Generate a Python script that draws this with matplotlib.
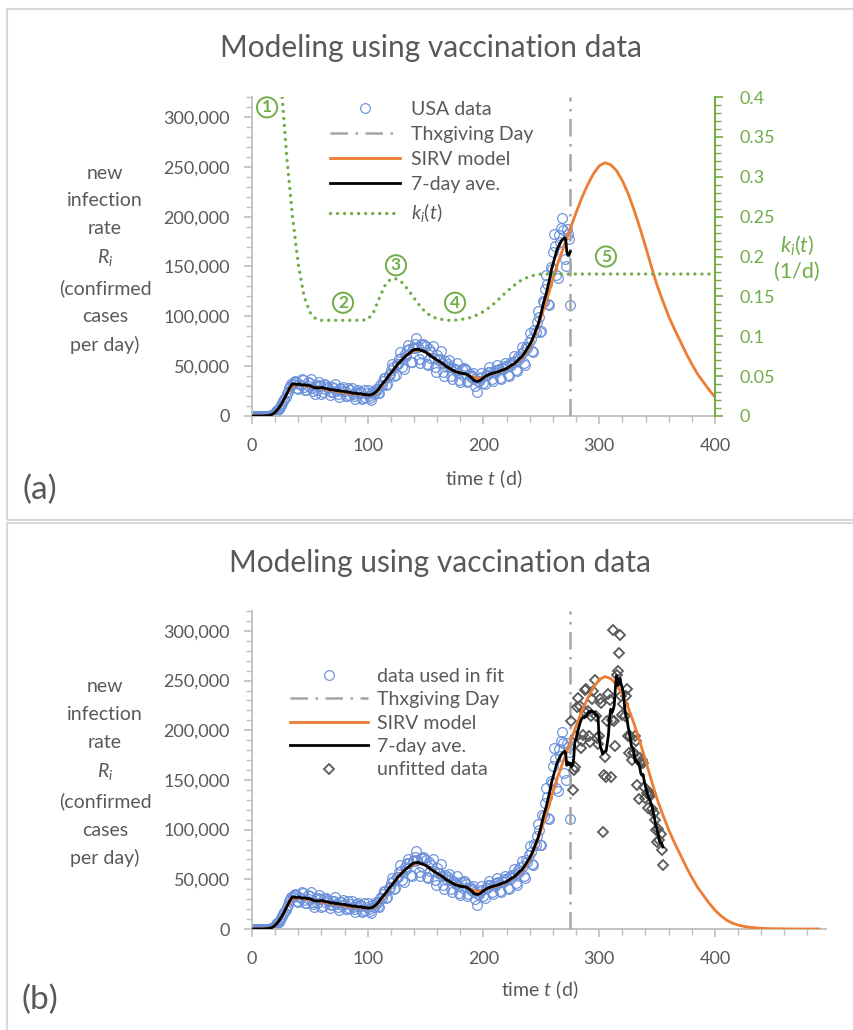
import numpy as np
import pandas as pd
import matplotlib
matplotlib.use('Agg')
import matplotlib.pyplot as plt
from matplotlib.ticker import MultipleLocator, FuncFormatter
from matplotlib.patches import Rectangle
from matplotlib.lines import Line2D

plt.rcParams['font.family'] = ['Lato', 'DejaVu Sans']
plt.rcParams['mathtext.fontset'] = 'custom'
plt.rcParams['mathtext.rm'] = 'Lato'
plt.rcParams['mathtext.it'] = 'Lato:italic'

# ---------------- data (thousands of cases per day) ----------------
# USA daily confirmed cases used in the fit, t = 0 .. 275
fit_cases_k = [
    0, 0, 0, 0, 0, 0, 0,
    0, 0, 0.1, 0.1, 0.1, 0.2, 0.3,
    0.4, 0.5, 0.7, 1.0, 1.5, 2.4, 3.3,
    4.6, 6.2, 7.4, 9.3, 10.8, 13.4, 14.8,
    17.4, 19.1, 22.6, 24.4, 27.8, 30.2, 32.6,
    32.4, 33.9, 35.2, 34.0, 28.1, 27.0, 31.8,
    31.0, 36.8, 35.8, 29.1, 26.5, 25.9, 34.4,
    29.8, 33.5, 36.9, 27.6, 25.3, 22.1, 30.5,
    26.2, 30.9, 34.6, 29.8, 22.2, 23.6, 31.6,
    27.4, 31.3, 29.4, 28.0, 21.1, 24.0, 28.6,
    23.7, 28.4, 32.1, 25.2, 22.0, 19.4, 27.6,
    26.8, 24.6, 29.4, 25.5, 19.9, 20.0, 27.9,
    21.2, 25.6, 28.3, 22.5, 19.9, 17.4, 24.8,
    22.8, 26.1, 24.2, 23.4, 17.0, 18.5, 25.7,
    19.0, 22.6, 26.3, 20.0, 17.9, 16.2, 24.3,
    21.8, 24.0, 27.3, 26.0, 22.9, 22.6, 31.4,
    31.3, 35.5, 38.6, 37.9, 31.0, 32.2, 41.5,
    41.9, 46.0, 51.8, 48.7, 40.0, 40.8, 52.6,
    52.4, 57.3, 63.9, 58.2, 48.9, 47.1, 62.5,
    60.5, 66.4, 70.8, 66.9, 54.0, 53.8, 68.3,
    68.4, 72.3, 78.5, 69.0, 57.5, 53.1, 71.8,
    63.0, 72.6, 71.7, 69.8, 52.5, 51.2, 67.6,
    58.4, 64.3, 70.3, 58.4, 49.3, 44.2, 61.2,
    56.6, 56.8, 65.5, 53.6, 44.6, 40.3, 54.7,
    50.4, 52.5, 55.7, 48.9, 39.9, 37.2, 48.2,
    47.3, 45.7, 53.1, 43.2, 36.6, 34.1, 47.3,
    41.4, 48.0, 47.4, 45.7, 33.7, 35.2, 42.4,
    39.3, 40.6, 43.0, 37.4, 30.2, 24.0, 34.8,
    35.4, 38.5, 43.1, 39.5, 33.1, 31.6, 41.6,
    41.4, 44.4, 48.8, 44.2, 36.9, 34.9, 45.6,
    43.3, 46.6, 51.0, 47.1, 37.9, 37.6, 47.9,
    46.8, 50.1, 53.6, 50.0, 41.5, 40.2, 52.9,
    50.9, 54.6, 60.3, 55.2, 46.3, 44.7, 59.2,
    57.4, 62.2, 68.9, 63.7, 53.1, 51.6, 69.2,
    67.9, 74.6, 83.3, 77.2, 65.4, 64.3, 86.0,
    84.4, 94.0, 105.2, 99.3, 84.6, 84.8, 114.9,
    113.9, 126.9, 141.4, 132.9, 112.2, 111.0, 149.0,
    147.4, 164.2, 182.2, 170.7, 141.9, 138.5, 181.1,
    174.4, 189.0, 198.5, 186.9, 157.0, 150.0, 187.3,
    183.0, 178.0, 111.0,
]

# unfitted data, t = 276 .. 355
unfitted_cases_k = [
    209, 140, 160, 163, 194, 223, 232, 224, 182, 189,
    195, 219, 241, 242, 219, 194, 188, 214, 231, 239,
    251, 214, 192, 186, 194, 231, 227, 98, 155, 173,
    153, 209, 236, 230, 153, 210, 301, 209, 184, 256,
    260, 278, 296, 234, 215, 226, 214, 234, 242, 194,
    177, 194, 170, 177, 177, 194, 189, 145, 131, 172,
    167, 170, 167, 143, 132, 137, 122, 135, 137, 135,
    121, 117, 110, 100, 88, 101, 90, 96, 80, 64,
]

# SIRV model, every 5 days
model_t = list(range(0, 495, 5))
model_k = [
    0, 0, 0.1, 0.6, 3.5, 11, 22, 30.5, 31.5, 30.5,
    29.5, 28.5, 27.5, 26.5, 25.5, 24.5, 23.5, 22.5, 22, 21.5,
    21, 21.5, 27, 35, 43, 50.5, 57, 62, 65.5, 66.5,
    64, 60, 56, 52, 48, 45, 43.5, 42, 39.5, 37.5,
    38.5, 41.5, 43, 45, 47.5, 51, 55, 61, 70, 83,
    100, 118, 138, 156, 172, 188, 204, 219, 232, 243,
    251, 254, 252, 246, 236, 223, 207, 189, 170, 150,
    131, 115, 100, 87, 75, 63, 52, 42, 34, 26,
    19, 13.5, 9, 6, 4, 2.6, 1.7, 1.1, 0.7, 0.45,
    0.3, 0.2, 0.12, 0.08, 0.05, 0.03, 0.02, 0.01, 0.01,
]

# infection rate coefficient k_i(t), 1/d
ki_t = list(range(20, 405, 5))
ki_vals = [
    0.62, 0.42, 0.325, 0.25, 0.19, 0.15, 0.13, 0.122, 0.12, 0.12,
    0.12, 0.12, 0.12, 0.12, 0.12, 0.12, 0.121, 0.13, 0.148, 0.164,
    0.172, 0.172, 0.167, 0.158, 0.148, 0.138, 0.13, 0.125, 0.122, 0.121,
    0.12, 0.12, 0.121, 0.122, 0.124, 0.127, 0.131, 0.136, 0.142, 0.149,
    0.156, 0.162, 0.168, 0.172, 0.175, 0.177, 0.178, 0.178, 0.178, 0.178,
    0.178, 0.178, 0.178, 0.178, 0.178, 0.178, 0.178, 0.178, 0.178, 0.178,
    0.178, 0.178, 0.178, 0.178, 0.178, 0.178, 0.178, 0.178, 0.178, 0.178,
    0.178, 0.178, 0.178, 0.178, 0.178, 0.178, 0.178,
]

thanksgiving_t = 274.7
stage_labels = ['1', '2', '3', '4', '5']
stage_t = [13, 78.6, 124.4, 175.4, 305.8]
stage_k = [0.387, 0.142, 0.189, 0.142, 0.2]

# ---------------- styling ----------------
W, H = 854, 1030
BLUE = '#6A90DA'
ORANGE = '#ED7D31'
GREEN = '#70AD47'
GRAY_TXT = '#595959'
AXIS_GRAY = '#BFBFBF'
TG_GRAY = '#A5A5A5'

def fx(px):
    return px / W

def fy(py):
    return 1 - py / H

fig = plt.figure(figsize=(W / 100, H / 100), dpi=100)
fig.patch.set_facecolor('white')

# panel borders
fig.patches.append(Rectangle((fx(7), fy(520)), 1.0, (520 - 9) / H, transform=fig.transFigure,
                             fill=False, ec='#D9D9D9', lw=1.5))
fig.patches.append(Rectangle((fx(7), fy(1040)), 1.0, (1040 - 523) / H, transform=fig.transFigure,
                             fill=False, ec='#D9D9D9', lw=1.5))

t_fit = np.arange(len(fit_cases_k))
fit_cases = np.array(fit_cases_k) * 1000
t_unf = np.arange(len(fit_cases_k), len(fit_cases_k) + len(unfitted_cases_k))
unf_cases = np.array(unfitted_cases_k) * 1000
model_t_arr = np.array(model_t)
model_vals = np.array(model_k) * 1000

avg_a = pd.Series(fit_cases).rolling(7, center=True, min_periods=4).mean().values
all_cases = np.concatenate([fit_cases, unf_cases])
t_all = np.arange(len(all_cases))
avg_b = pd.Series(all_cases).rolling(7, center=True, min_periods=4).mean().values

comma_fmt = FuncFormatter(lambda v, p: f'{int(round(v)):,}')

MS_O = 7.0
MEW_O = 0.85


def style_main_axis(ax, xmax):
    ax.set_ylim(0, 320000)
    ax.set_xlim(0, xmax)
    ax.yaxis.set_major_locator(MultipleLocator(50000))
    ax.yaxis.set_minor_locator(MultipleLocator(10000))
    ax.xaxis.set_major_locator(MultipleLocator(100))
    ax.xaxis.set_minor_locator(MultipleLocator(20))
    ax.yaxis.set_major_formatter(comma_fmt)
    for s in ['top', 'right']:
        ax.spines[s].set_visible(False)
    for s in ['left', 'bottom']:
        ax.spines[s].set_color(AXIS_GRAY)
        ax.spines[s].set_linewidth(1.3)
    ax.tick_params(axis='both', which='both', direction='out', color=AXIS_GRAY,
                   labelcolor=GRAY_TXT, labelsize=13)
    ax.tick_params(axis='both', which='major', length=6, width=1.2)
    ax.tick_params(axis='both', which='minor', length=4, width=1.0)
    ax.tick_params(axis='x', pad=10)
    ax.tick_params(axis='y', pad=10)
    ax.set_facecolor('none')


def ylabel_block(y0):
    lines = ['new', 'infection', 'rate', '$R_i$', '(confirmed', 'cases', 'per day)']
    offs = [0, 28, 56, 85, 115, 144, 172]
    for ln, o in zip(lines, offs):
        fig.text(fx(105), fy(y0 + o), ln, ha='center', va='center', fontsize=14, color=GRAY_TXT)


# ================= panel (a) =================
axA = fig.add_axes([fx(252), fy(416), (715 - 252) / W, (416 - 97) / H])
style_main_axis(axA, 400)
axA.set_xticks([0, 100, 200, 300, 400])

axA.plot(t_fit, fit_cases, ls='none', marker='o', ms=MS_O, mfc='none', mec=BLUE, mew=MEW_O, zorder=2)
axA.axvline(thanksgiving_t, color=TG_GRAY, lw=1.8, dashes=(7, 3, 1, 3), zorder=3)
mask_a = model_t_arr <= 400
axA.plot(model_t_arr[mask_a], model_vals[mask_a], color=ORANGE, lw=2.0, zorder=3)
axA.plot(t_fit, avg_a, color='black', lw=2.0, zorder=4)

axK = axA.twinx()
axK.set_ylim(0, 0.4)
axK.set_xlim(0, 400)
axK.plot(ki_t, ki_vals, color=GREEN, lw=2.4, dashes=(0.01, 2.1), dash_capstyle='round', zorder=5)
for s in ['top', 'left', 'bottom']:
    axK.spines[s].set_visible(False)
axK.spines['right'].set_color(GREEN)
axK.spines['right'].set_linewidth(1.5)
axK.yaxis.set_major_locator(MultipleLocator(0.05))
axK.yaxis.set_minor_locator(MultipleLocator(0.01))
axK.yaxis.set_major_formatter(FuncFormatter(lambda v, p: f'{v:g}'))
axK.tick_params(axis='y', which='both', direction='out', color=GREEN, labelcolor=GREEN, labelsize=13, pad=12)
axK.tick_params(axis='y', which='major', length=6, width=1.2)
axK.tick_params(axis='y', which='minor', length=4, width=1.0)

for lab, tt, kk in zip(stage_labels, stage_t, stage_k):
    axK.text(tt, kk, lab, ha='center', va='center', fontsize=12.5, color=GREEN, fontweight='bold',
             bbox=dict(boxstyle='circle,pad=0.12', fc='white', ec=GREEN, lw=1.4), zorder=6)

handles_a = [
    Line2D([], [], ls='none', marker='o', ms=MS_O, mfc='none', mec=BLUE, mew=MEW_O),
    Line2D([], [], color=TG_GRAY, lw=1.8, dashes=(7, 3, 1, 3)),
    Line2D([], [], color=ORANGE, lw=2.0),
    Line2D([], [], color='black', lw=2.0),
    Line2D([], [], color=GREEN, lw=2.4, dashes=(0.01, 2.1), dash_capstyle='round'),
]
labels_a = ['USA data', 'Thxgiving Day', 'SIRV model', '7-day ave.', '$k_i(t)$']
legA = axK.legend(handles_a, labels_a, loc='upper left', bbox_to_anchor=(fx(322), fy(93)),
                  bbox_transform=fig.transFigure, frameon=False, fontsize=14, handlelength=3.6,
                  labelspacing=0.42, handletextpad=0.6, borderaxespad=0)
for t in legA.get_texts():
    t.set_color(GRAY_TXT)

fig.text(fx(431), fy(48), 'Modeling using vaccination data', ha='center', va='center',
         fontsize=21.5, color=GRAY_TXT)
ylabel_block(173)
fig.text(fx(484), fy(479), 'time $t$ (d)', ha='center', va='center', fontsize=14, color=GRAY_TXT)
fig.text(fx(797), fy(245), '$k_i(t)$', ha='center', va='center', fontsize=15.5, color=GREEN)
fig.text(fx(797), fy(272), '(1/d)', ha='center', va='center', fontsize=15.5, color=GREEN)
fig.text(fx(40), fy(490), '(a)', ha='center', va='center', fontsize=24, color=GRAY_TXT)

# ================= panel (b) =================
axB = fig.add_axes([fx(252), fy(929), (826 - 252) / W, (929 - 611) / H])
style_main_axis(axB, 496)
axB.set_xticks([0, 100, 200, 300, 400])

axB.plot(t_fit, fit_cases, ls='none', marker='o', ms=MS_O, mfc='none', mec=BLUE, mew=MEW_O, zorder=2)
axB.axvline(thanksgiving_t, color=TG_GRAY, lw=1.8, dashes=(7, 3, 1, 3), zorder=3)
axB.plot(t_unf, unf_cases, ls='none', marker='D', ms=5.0, mfc='none', mec=GRAY_TXT, mew=1.3, zorder=3)
axB.plot(model_t_arr, model_vals, color=ORANGE, lw=2.0, zorder=4)
axB.plot(t_all, avg_b, color='black', lw=2.0, zorder=5)

handles_b = [
    Line2D([], [], ls='none', marker='o', ms=MS_O, mfc='none', mec=BLUE, mew=MEW_O),
    Line2D([], [], color=TG_GRAY, lw=1.8, dashes=(7, 3, 1, 3)),
    Line2D([], [], color=ORANGE, lw=2.0),
    Line2D([], [], color='black', lw=2.0),
    Line2D([], [], ls='none', marker='D', ms=5.0, mfc='none', mec=GRAY_TXT, mew=1.3),
]
labels_b = ['data used in fit', 'Thxgiving Day', 'SIRV model', '7-day ave.', 'unfitted data']
legB = axB.legend(handles_b, labels_b, loc='upper left', bbox_to_anchor=(fx(282), fy(660)),
                  bbox_transform=fig.transFigure, frameon=False, fontsize=14, handlelength=4.0,
                  labelspacing=0.33, handletextpad=0.5, borderaxespad=0)
for t in legB.get_texts():
    t.set_color(GRAY_TXT)

fig.text(fx(440), fy(563), 'Modeling using vaccination data', ha='center', va='center',
         fontsize=21.5, color=GRAY_TXT)
ylabel_block(686)
fig.text(fx(540), fy(990), 'time $t$ (d)', ha='center', va='center', fontsize=14, color=GRAY_TXT)
fig.text(fx(40), fy(1000), '(b)', ha='center', va='center', fontsize=24, color=GRAY_TXT)

fig.savefig('out.png', dpi=100)
